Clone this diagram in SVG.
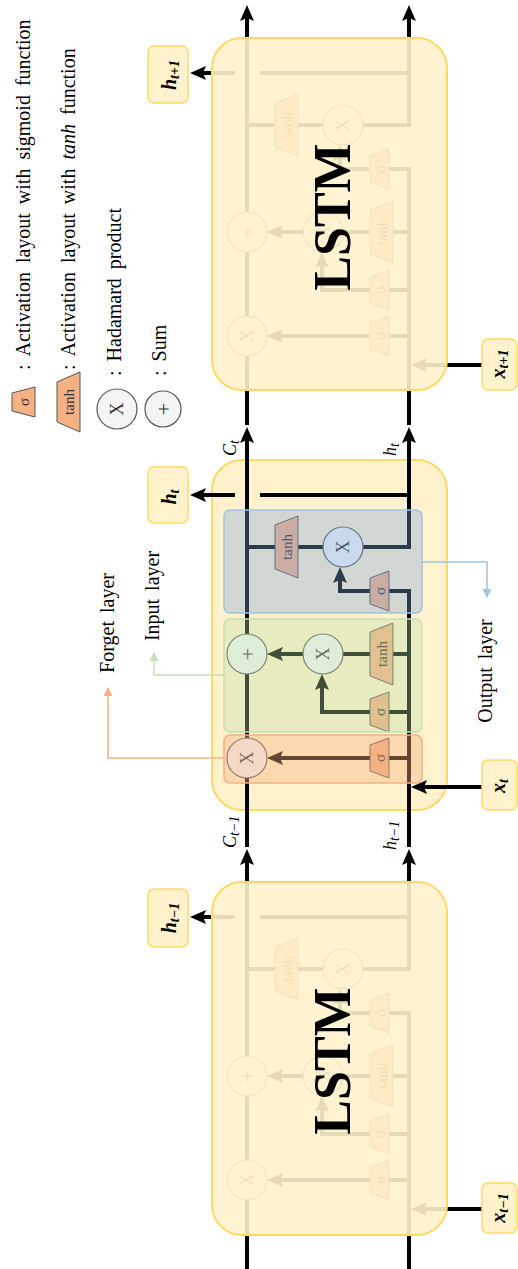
<svg xmlns="http://www.w3.org/2000/svg" width="518" height="1269" viewBox="0 0 518 1269">
<style>
  text{font-family:"Liberation Serif","Times New Roman",serif;fill:#000}
  .w{fill:none;stroke:#000;stroke-width:4;stroke-linejoin:miter}
  .gate{fill:#f4b183;stroke:#555;stroke-width:1}
  .op{fill:#f4f4f4;stroke:#555;stroke-width:1.2}
  .cell{fill:#fff2cc;stroke:#ffd966;stroke-width:2}
  .fade{fill:#fff2cc;fill-opacity:.9;stroke:#ffd966;stroke-width:2}
  .box{fill:#fff2cc;stroke:#ffd966;stroke-width:1.5}
  .gt{font-size:15px;fill:#333;text-anchor:middle;dominant-baseline:central}
  .tt{font-size:15px;fill:#333;text-anchor:middle;dominant-baseline:central}
  .ot{font-size:18px;fill:#333;text-anchor:middle;dominant-baseline:central}
  .pt{font-size:22px;fill:#333;text-anchor:middle;dominant-baseline:central}
  .lstm{font-size:52px;font-weight:bold;text-anchor:middle}
  .lbl{font-size:20px;text-anchor:middle;word-spacing:3px}
  .leg{font-size:20px;word-spacing:4px}
  .var{font-size:20px;font-weight:bold;font-style:italic;text-anchor:middle}
  .sub{font-size:14px}
  .ml{font-size:18px;font-style:italic}
</style>
<defs>
  <marker id="ah" viewBox="0 0 16 14" refX="10" refY="7" markerWidth="16" markerHeight="14" markerUnits="userSpaceOnUse" orient="auto">
    <path d="M0,0 L16,7 L0,14 L3,7 Z" fill="#000"/>
  </marker>
  <marker id="ao" viewBox="0 0 10 10" refX="9" refY="5" markerWidth="9" markerHeight="9" markerUnits="userSpaceOnUse" orient="auto">
    <path d="M0,0 L10,5 L0,10 Z" fill="#f4b183"/>
  </marker>
  <marker id="ag" viewBox="0 0 10 10" refX="9" refY="5" markerWidth="9" markerHeight="9" markerUnits="userSpaceOnUse" orient="auto">
    <path d="M0,0 L10,5 L0,10 Z" fill="#c5e0b4"/>
  </marker>
  <marker id="ab" viewBox="0 0 10 10" refX="9" refY="5" markerWidth="9" markerHeight="9" markerUnits="userSpaceOnUse" orient="auto">
    <path d="M0,0 L10,5 L0,10 Z" fill="#9dc3e6"/>
  </marker>
  <g id="wires">
    <path class="w" d="M247,387 L247,-27" marker-end="url(#ah)"/>
    <path class="w" d="M363,87 L409,87 L409,-27" marker-end="url(#ah)"/>
    <path class="w" d="M409,387 L409,131 L388,131"/>
    <path class="w" d="M409,194 L390,194"/>
    <path class="w" d="M409,252 L388,252"/>
    <path class="w" d="M409,298 L388,298"/>
    <path class="w" d="M372,131 L340,131 L340,113" marker-end="url(#ah)"/>
    <path class="w" d="M247,87 L323,87"/>
    <path class="w" d="M372,194 L343,194"/>
    <path class="w" d="M372,252 L322,252 L322,220" marker-end="url(#ah)"/>
    <path class="w" d="M303,194 L273,194" marker-end="url(#ah)"/>
    <path class="w" d="M372,298 L273,298" marker-end="url(#ah)"/>
    <path class="w" d="M409,35 L260,35 M235,35 L196,35" marker-end="url(#ah)"/>
    <path class="w" d="M484,327 L417,327" marker-end="url(#ah)"/>
  </g>
  <g id="nodes">
    <polygon class="gate" points="275,65 298,56 298,118 275,109"/>
    <text class="tt" transform="translate(287,87) rotate(-90)">tanh</text>
    <circle class="op" cx="343" cy="87" r="20"/>
    <text class="ot" transform="translate(343,87) rotate(-90)">X</text>
    <polygon class="gate" points="370,118 389,111 389,151 370,144"/>
    <text class="gt" transform="translate(380,131) rotate(-90)">σ</text>
    <circle class="op" cx="247" cy="194" r="20"/>
    <text class="pt" transform="translate(247,194) rotate(-90)">+</text>
    <circle class="op" cx="323" cy="194" r="20"/>
    <text class="ot" transform="translate(323,194) rotate(-90)">X</text>
    <polygon class="gate" points="370,172 393,163 393,225 370,216"/>
    <text class="tt" transform="translate(382,194) rotate(-90)">tanh</text>
    <polygon class="gate" points="370,239 389,232 389,272 370,265"/>
    <text class="gt" transform="translate(380,252) rotate(-90)">σ</text>
    <circle class="op" cx="247" cy="298" r="20"/>
    <text class="ot" transform="translate(247,298) rotate(-90)">X</text>
    <polygon class="gate" points="370,285 389,278 389,318 370,311"/>
    <text class="gt" transform="translate(380,298) rotate(-90)">σ</text>
  </g>
</defs>

<g id="legend">
  <g id="legend-sigmoid">
    <polygon class="gate" points="12,393 35,387 35,417 12,411"/>
    <text class="gt" transform="translate(24,402) rotate(-90)">σ</text>
    <text class="leg" transform="translate(30,370) rotate(-90)">: Activation layout with sigmoid function</text>
  </g>
  <g id="legend-tanh">
    <polygon class="gate" points="57,382 80,372 80,432 57,422"/>
    <text class="tt" transform="translate(69,402) rotate(-90)">tanh</text>
    <text class="leg" transform="translate(75,370) rotate(-90)">: Activation layout with <tspan font-style="italic">tanh</tspan> function</text>
  </g>
  <g id="legend-hadamard">
    <circle class="op" cx="117" cy="409" r="20"/>
    <text class="ot" transform="translate(117,409) rotate(-90)">X</text>
    <text class="leg" transform="translate(121,376) rotate(-90)" word-spacing="8">: Hadamard product</text>
  </g>
  <g id="legend-sum">
    <circle class="op" cx="163" cy="409" r="18"/>
    <text class="pt" transform="translate(163,409) rotate(-90)">+</text>
    <text class="leg" transform="translate(166,376) rotate(-90)">: Sum</text>
  </g>
</g>

<g id="cell-t-plus-1" transform="translate(0,38)">
  <use href="#wires"/>
  <use href="#nodes"/>
  <rect class="fade" x="212" y="0" width="235" height="352" rx="30"/>
  <text class="lstm" transform="translate(350,179) rotate(-90)">LSTM</text>
</g>

<g id="cell-t" transform="translate(0,460)">
  <rect class="cell" x="212" y="0" width="235" height="350" rx="30"/>
  <use href="#wires"/>
  <use href="#nodes"/>
  <rect id="output-region" x="224" y="50" width="198" height="103" rx="6" fill="#7ea6e0" fill-opacity=".35" stroke="#9dc3e6" stroke-width="1.5"/>
  <rect id="input-region" x="224" y="159" width="198" height="113" rx="6" fill="#b9e0a5" fill-opacity=".35" stroke="#c5e0b4" stroke-width="1.5"/>
  <rect id="forget-region" x="224" y="275" width="198" height="48" rx="6" fill="#f4b183" fill-opacity=".4" stroke="#f4b183" stroke-width="1.5"/>
</g>

<g id="cell-t-minus-1" transform="translate(0,882)">
  <use href="#wires"/>
  <use href="#nodes"/>
  <rect class="fade" x="212" y="0" width="235" height="353" rx="30"/>
  <text class="lstm" transform="translate(350,179) rotate(-90)">LSTM</text>
</g>

<g id="layer-connectors" fill="none" stroke-width="1.5">
  <path d="M224,758 L108,758 L108,688" stroke="#f4b183" marker-end="url(#ao)"/>
  <path d="M224,675 L154,675 L154,653" stroke="#c5e0b4" marker-end="url(#ag)"/>
  <path d="M422,562 L487,562 L487,597" stroke="#9dc3e6" marker-end="url(#ab)"/>
</g>
<g id="layer-labels">
  <text class="lbl" transform="translate(114,623) rotate(-90)">Forget layer</text>
  <text class="lbl" transform="translate(159,596) rotate(-90)">Input layer</text>
  <text class="lbl" transform="translate(492,671) rotate(-90)">Output layer</text>
</g>

<g id="state-labels">
  <text class="ml" transform="translate(236,456) rotate(-90)">C<tspan class="sub" dy="3">t</tspan></text>
  <text class="ml" transform="translate(396,456) rotate(-90)">h<tspan class="sub" dy="3">t</tspan></text>
  <text class="ml" transform="translate(236,848) rotate(-90)">C<tspan class="sub" dy="3">t−1</tspan></text>
  <text class="ml" transform="translate(396,850) rotate(-90)">h<tspan class="sub" dy="3">t−1</tspan></text>
</g>

<g id="h-t-plus-1">
  <rect class="box" x="148" y="46" width="40" height="57" rx="6"/>
  <text class="var" transform="translate(176,75) rotate(-90)">h<tspan class="sub" dy="3">t+1</tspan></text>
</g>
<g id="h-t">
  <rect class="box" x="148" y="467" width="40" height="56" rx="6"/>
  <text class="var" transform="translate(176,497) rotate(-90)">h<tspan class="sub" dy="3">t</tspan></text>
</g>
<g id="h-t-minus-1">
  <rect class="box" x="148" y="889" width="40" height="58" rx="6"/>
  <text class="var" transform="translate(176,918) rotate(-90)">h<tspan class="sub" dy="3">t−1</tspan></text>
</g>
<g id="x-t-plus-1">
  <rect class="box" x="482" y="339" width="35" height="51" rx="6"/>
  <text class="var" transform="translate(505,364) rotate(-90)">x<tspan class="sub" dy="3">t+1</tspan></text>
</g>
<g id="x-t">
  <rect class="box" x="482" y="760" width="35" height="50" rx="6"/>
  <text class="var" transform="translate(505,786) rotate(-90)">x<tspan class="sub" dy="3">t</tspan></text>
</g>
<g id="x-t-minus-1">
  <rect class="box" x="482" y="1183" width="35" height="50" rx="6"/>
  <text class="var" transform="translate(505,1208) rotate(-90)">x<tspan class="sub" dy="3">t−1</tspan></text>
</g>
</svg>
